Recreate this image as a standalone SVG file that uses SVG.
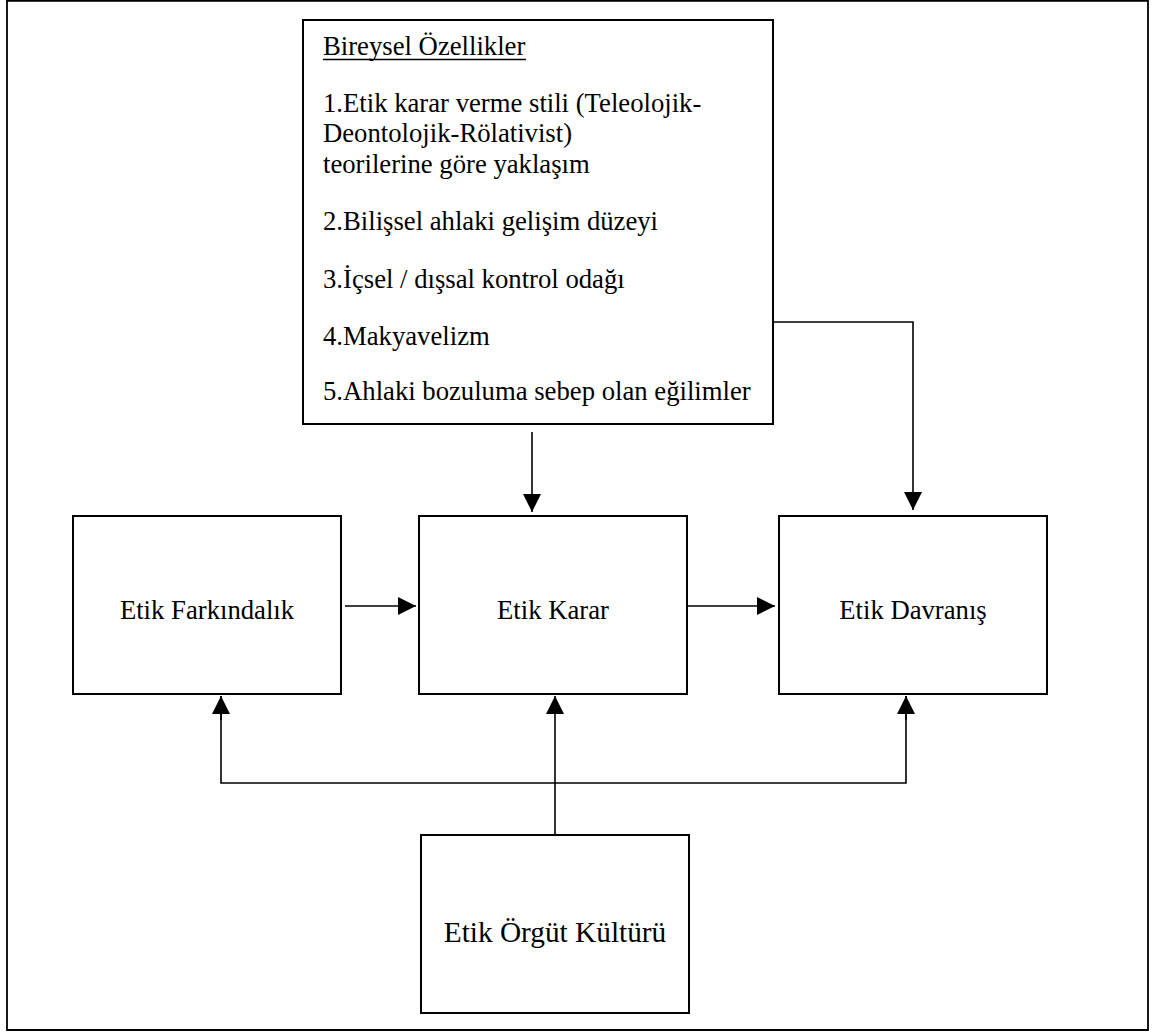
<svg xmlns="http://www.w3.org/2000/svg" width="1159" height="1032" viewBox="0 0 1159 1032">
<style>
.box{fill:#fff;stroke:#000;stroke-width:2}
.t{font-size:26.7px;fill:#000}
.c{text-anchor:middle}
.con{fill:none;stroke:#000;stroke-width:1.6}
</style>
<defs>
<marker id="ah" markerUnits="userSpaceOnUse" markerWidth="18" markerHeight="18" viewBox="0 0 16 16" refX="16" refY="8" orient="auto">
<path d="M0,0 L16,8 L0,16 Z" fill="#000"/>
</marker>
</defs>
<rect x="0" y="0" width="1159" height="1032" fill="#fff"/>
<path d="M7,0.8 H1148 V1030 H7 Z" fill="none" stroke="#000" stroke-width="1.8"/>
<g font-family="'Liberation Serif', 'Times New Roman', 'DejaVu Serif', serif">
<g id="bireysel">
<rect class="box" x="303" y="20" width="470" height="404"/>
<text class="t" x="323" y="55">Bireysel Özellikler</text>
<line x1="323" y1="59.5" x2="526" y2="59.5" stroke="#000" stroke-width="1.3"/>
<text class="t" x="323" y="112">1.Etik karar verme stili (Teleolojik-</text>
<text class="t" x="323" y="142">Deontolojik-Rölativist)</text>
<text class="t" x="323" y="173">teorilerine göre yaklaşım</text>
<text class="t" x="323" y="230">2.Bilişsel ahlaki gelişim düzeyi</text>
<text class="t" x="323" y="288">3.İçsel / dışsal kontrol odağı</text>
<text class="t" x="323" y="345">4.Makyavelizm</text>
<text class="t" x="323" y="400">5.Ahlaki bozuluma sebep olan eğilimler</text>
</g>
<g id="farkindalik">
<rect class="box" x="73" y="516" width="268" height="178"/>
<text class="t c" x="207" y="619">Etik Farkındalık</text>
</g>
<g id="karar">
<rect class="box" x="419" y="516" width="268" height="178"/>
<text class="t c" x="553" y="619">Etik Karar</text>
</g>
<g id="davranis">
<rect class="box" x="779" y="516" width="268" height="178"/>
<text class="t c" x="913" y="619">Etik Davranış</text>
</g>
<g id="kultur">
<rect class="box" x="421" y="835" width="268" height="178"/>
<text class="t c" x="555" y="942" style="font-size:29.3px">Etik Örgüt Kültürü</text>
</g>
</g>
<g id="connectors">
<line class="con" x1="532" y1="432" x2="532" y2="512" marker-end="url(#ah)"/>
<polyline class="con" points="773,322 913,322 913,510" marker-end="url(#ah)"/>
<line class="con" x1="345" y1="606" x2="416" y2="606" marker-end="url(#ah)"/>
<line class="con" x1="687" y1="606" x2="775" y2="606" marker-end="url(#ah)"/>
<line class="con" x1="555" y1="835" x2="555" y2="696" marker-end="url(#ah)"/>
<polyline class="con" points="221,696 221,783 906,783 906,696"/>
<line class="con" x1="221" y1="720" x2="221" y2="696" marker-end="url(#ah)"/>
<line class="con" x1="906" y1="720" x2="906" y2="696" marker-end="url(#ah)"/>
</g>
</svg>
